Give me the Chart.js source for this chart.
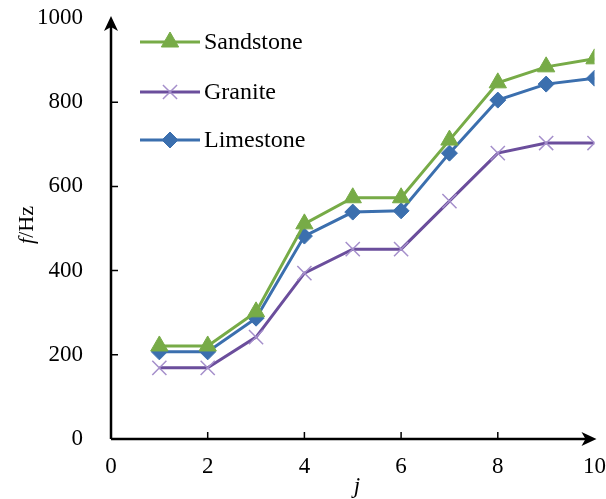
<!DOCTYPE html>
<html>
<head>
<meta charset="utf-8">
<script src="https://cdn.jsdelivr.net/npm/chart.js@4"></script>
<style>
  html, body { margin: 0; padding: 0; background: #fff; }
  #wrap { width: 606px; height: 499px; }
</style>
</head>
<body>
<div id="wrap"><canvas id="chart"></canvas></div>
<script>
const jValues = [1, 2, 3, 4, 5, 6, 7, 8, 9, 10];
const sandstone = [221, 221, 302, 511, 573, 573, 710, 846, 884, 903];
const granite = [169, 169, 242, 394, 451, 451, 565, 679, 703, 703];
const limestone = [207, 207, 287, 482, 539, 542, 679, 805, 843, 857];
const seriesNames = ["Sandstone", "Granite", "Limestone"];
const xTicks = [0, 2, 4, 6, 8, 10];
const yTicks = [0, 200, 400, 600, 800, 1000];

const serif = "'Liberation Serif', 'Times New Roman', serif";

const toPoints = (vals) => vals.map((v, i) => ({ x: jValues[i], y: v }));

// axes with arrows, inner ticks, in-plot legend and axis titles
const decorations = {
  id: "decorations",
  afterDraw(chart) {
    const ctx = chart.ctx;
    const x = chart.scales.x;
    const y = chart.scales.y;
    const x0 = x.getPixelForValue(0);
    const y0 = y.getPixelForValue(0);
    const xEnd = x.getPixelForValue(10);
    const yEnd = y.getPixelForValue(1000);

    ctx.save();
    ctx.strokeStyle = "#000";
    ctx.fillStyle = "#000";
    ctx.lineWidth = 2.5;
    ctx.beginPath();
    ctx.moveTo(x0, y0);
    ctx.lineTo(xEnd - 4, y0);
    ctx.moveTo(x0, y0);
    ctx.lineTo(x0, yEnd + 4);
    ctx.stroke();

    // arrow heads
    ctx.beginPath();
    ctx.moveTo(xEnd + 2, y0);
    ctx.lineTo(xEnd - 13, y0 - 7);
    ctx.lineTo(xEnd - 9, y0);
    ctx.lineTo(xEnd - 13, y0 + 7);
    ctx.closePath();
    ctx.fill();
    ctx.beginPath();
    ctx.moveTo(x0, yEnd - 2);
    ctx.lineTo(x0 - 7, yEnd + 13);
    ctx.lineTo(x0, yEnd + 9);
    ctx.lineTo(x0 + 7, yEnd + 13);
    ctx.closePath();
    ctx.fill();

    // inner tick marks
    ctx.lineWidth = 1.5;
    ctx.beginPath();
    xTicks.slice(1, -1).forEach((t) => {
      const px = x.getPixelForValue(t);
      ctx.moveTo(px, y0);
      ctx.lineTo(px, y0 - 7);
    });
    yTicks.slice(1, -1).forEach((t) => {
      const py = y.getPixelForValue(t);
      ctx.moveTo(x0, py);
      ctx.lineTo(x0 + 7, py);
    });
    ctx.stroke();

    // legend
    const rows = [42, 92, 140];
    chart.data.datasets.forEach((ds, i) => {
      const ly = rows[i];
      ctx.strokeStyle = ds.borderColor;
      ctx.lineWidth = 3;
      ctx.beginPath();
      ctx.moveTo(140, ly);
      ctx.lineTo(200, ly);
      ctx.stroke();
      ctx.fillStyle = ds.backgroundColor;
      ctx.strokeStyle = ds.pointBorderColor;
      ctx.lineWidth = ds.pointBorderWidth;
      Chart.helpers.drawPoint(ctx, {
        pointStyle: ds.pointStyle,
        radius: ds.pointRadius,
        borderWidth: ds.pointBorderWidth,
        rotation: 0
      }, 170, ly);
      ctx.font = "24px " + serif;
      ctx.textBaseline = "middle";
      ctx.textAlign = "left";
      ctx.fillStyle = "#000";
      ctx.fillText(ds.label, 204, ly + 1);
    });

    // y title: italic f + /Hz
    ctx.save();
    ctx.translate(27, 225);
    ctx.rotate(-Math.PI / 2);
    ctx.textBaseline = "middle";
    ctx.textAlign = "left";
    ctx.font = "italic 22px " + serif;
    const fW = ctx.measureText("f").width;
    ctx.font = "22px " + serif;
    const hzW = ctx.measureText("/Hz").width;
    const start = -(fW + hzW) / 2;
    ctx.fillStyle = "#000";
    ctx.font = "italic 22px " + serif;
    ctx.fillText("f", start, 0);
    ctx.font = "22px " + serif;
    ctx.fillText("/Hz", start + fW, 0);
    ctx.restore();

    // x title
    ctx.font = "italic 23px " + serif;
    ctx.textAlign = "center";
    ctx.textBaseline = "middle";
    ctx.fillStyle = "#000";
    ctx.fillText("j", 357, 487);
    ctx.restore();
  }
};

const tickFont = { family: serif, size: 23 };

new Chart(document.getElementById("chart"), {
  type: "line",
  data: {
    datasets: [
      {
        label: seriesNames[0],
        data: toPoints(sandstone),
        borderColor: "#77ab47",
        backgroundColor: "#77ab47",
        pointBorderColor: "#77ab47",
        pointStyle: "triangle",
        pointRadius: 10,
        pointBorderWidth: 1,
        borderWidth: 3,
        tension: 0
      },
      {
        label: seriesNames[1],
        data: toPoints(granite),
        borderColor: "#6b4e9c",
        backgroundColor: "#a58fcb",
        pointBorderColor: "#a58fcb",
        pointStyle: "crossRot",
        pointRadius: 10,
        pointBorderWidth: 1.5,
        borderWidth: 3,
        tension: 0
      },
      {
        label: seriesNames[2],
        data: toPoints(limestone),
        borderColor: "#3b6fae",
        backgroundColor: "#3b6fae",
        pointBorderColor: "#3b6fae",
        pointStyle: "rectRot",
        pointRadius: 8,
        pointBorderWidth: 1,
        borderWidth: 3,
        tension: 0
      }
    ]
  },
  options: {
    responsive: true,
    maintainAspectRatio: false,
    animation: false,
    layout: { padding: { top: 18, right: 10, left: 0, bottom: 0 } },
    plugins: {
      legend: { display: false },
      tooltip: { enabled: false }
    },
    scales: {
      x: {
        type: "linear",
        min: 0,
        max: 10,
        afterFit: (s) => {
          s.height = 60;
          s.paddingLeft = 0;
          s.paddingRight = 0;
        },
        afterBuildTicks: (s) => { s.ticks = xTicks.map((v) => ({ value: v })); },
        ticks: { font: tickFont, color: "#000", padding: 6, maxRotation: 0, callback: (v) => String(v) },
        grid: { display: false },
        border: { display: false }
      },
      y: {
        min: 0,
        max: 1000,
        afterFit: (s) => {
          s.width = 111;
          s.paddingTop = 0;
          s.paddingBottom = 0;
        },
        afterBuildTicks: (s) => { s.ticks = yTicks.map((v) => ({ value: v })); },
        ticks: { font: tickFont, color: "#000", padding: 20, callback: (v) => String(v) },
        grid: { display: false },
        border: { display: false }
      }
    }
  },
  plugins: [decorations]
});
</script>
</body>
</html>
